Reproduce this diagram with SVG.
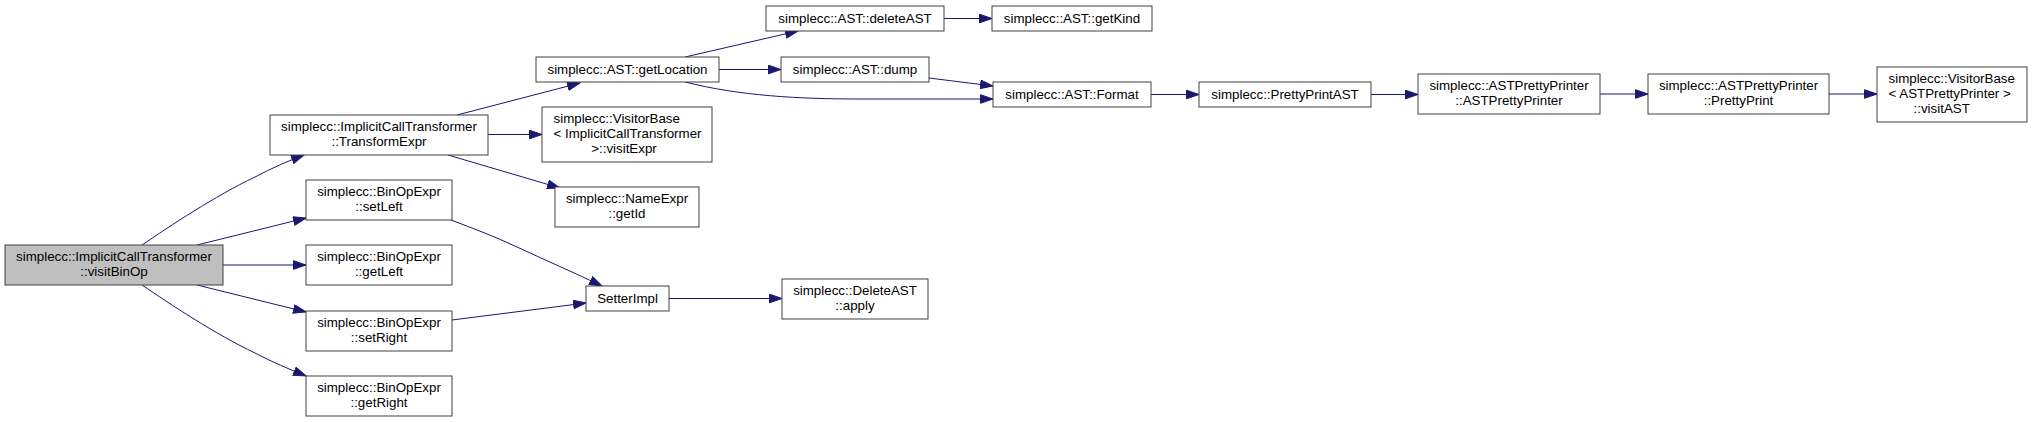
<svg xmlns="http://www.w3.org/2000/svg" width="2032" height="422" viewBox="0 0 2032 422">
<style>
.n rect{fill:#ffffff;stroke:#404040;stroke-width:1}
.n.root rect{fill:#bfbfbf}
.n text{font-family:"Liberation Sans",Arial,Helvetica,sans-serif;font-size:13.33px;fill:#000000}
.c{text-anchor:middle}
.e path{fill:none;stroke:#191970;stroke-width:1;marker-end:url(#ah)}
</style>
<defs>
<marker id="ah" markerUnits="userSpaceOnUse" markerWidth="14" markerHeight="10" refX="13" refY="4.6" orient="auto">
<path d="M0.5,0.3 L13,4.6 L0.5,8.9 z" fill="#191970" stroke="#191970" stroke-width="1"/>
</marker>
</defs>
<rect x="0" y="0" width="2032" height="422" fill="#ffffff"/>
<g id="edges" class="e">
<path d="M142,245 C170,226 215,196 255,177 C272,168 288,161 304,155"/>
<path d="M197,245 L306,218"/>
<path d="M223,265 L306,265"/>
<path d="M197,285 L306,312"/>
<path d="M142,285 C170,304 215,334 255,353 C272,362 289,369 306,376"/>
<path d="M457,115 L580,83"/>
<path d="M488,134.5 L542,134.5"/>
<path d="M448,155 L560,188"/>
<path d="M451,220 C472,228 496,237 517,247 C545,260 575,273 602,286"/>
<path d="M452,320 L586,303"/>
<path d="M669,298.5 L782,298.5"/>
<path d="M685,57 L798,31"/>
<path d="M719,69.5 L781,69.5"/>
<path d="M685,82 C740,96 800,99 860,99 L993,99"/>
<path d="M929,78 L993,86"/>
<path d="M944,18.5 L992,18.5"/>
<path d="M1151,94.5 L1199,94.5"/>
<path d="M1371,94.5 L1418,94.5"/>
<path d="M1600,94 L1648,94"/>
<path d="M1829,94 L1877,94"/>
</g>
<g id="visitBinOp" class="n root"><rect x="5" y="245" width="218" height="40"/><text class="c" x="114" y="261">simplecc::ImplicitCallTransformer</text><text class="c" x="114" y="276">::visitBinOp</text></g>
<g id="TransformExpr" class="n"><rect x="270" y="115" width="218" height="40"/><text class="c" x="379" y="131">simplecc::ImplicitCallTransformer</text><text class="c" x="379" y="146">::TransformExpr</text></g>
<g id="setLeft" class="n"><rect x="306" y="180" width="146" height="40"/><text class="c" x="379" y="196">simplecc::BinOpExpr</text><text class="c" x="379" y="211">::setLeft</text></g>
<g id="getLeft" class="n"><rect x="306" y="245" width="146" height="40"/><text class="c" x="379" y="261">simplecc::BinOpExpr</text><text class="c" x="379" y="276">::getLeft</text></g>
<g id="setRight" class="n"><rect x="306" y="311" width="146" height="40"/><text class="c" x="379" y="327">simplecc::BinOpExpr</text><text class="c" x="379" y="342">::setRight</text></g>
<g id="getRight" class="n"><rect x="306" y="376" width="146" height="40"/><text class="c" x="379" y="392">simplecc::BinOpExpr</text><text class="c" x="379" y="407">::getRight</text></g>
<g id="getLocation" class="n"><rect x="536" y="57" width="183" height="25"/><text class="c" x="627.5" y="74">simplecc::AST::getLocation</text></g>
<g id="visitExpr" class="n"><rect x="542" y="107" width="170" height="55"/><text x="553.5" y="123">simplecc::VisitorBase</text><text x="553.5" y="138">&lt; ImplicitCallTransformer</text><text class="c" x="624" y="153">&gt;::visitExpr</text></g>
<g id="getId" class="n"><rect x="555" y="187" width="144" height="40"/><text class="c" x="627" y="203">simplecc::NameExpr</text><text class="c" x="627" y="218">::getId</text></g>
<g id="SetterImpl" class="n"><rect x="586" y="286" width="83" height="25"/><text class="c" x="627.5" y="303">SetterImpl</text></g>
<g id="apply" class="n"><rect x="782" y="279" width="146" height="40"/><text class="c" x="855" y="295">simplecc::DeleteAST</text><text class="c" x="855" y="310">::apply</text></g>
<g id="deleteAST" class="n"><rect x="766" y="6" width="178" height="25"/><text class="c" x="855" y="23">simplecc::AST::deleteAST</text></g>
<g id="getKind" class="n"><rect x="992" y="6" width="160" height="25"/><text class="c" x="1072" y="23">simplecc::AST::getKind</text></g>
<g id="dump" class="n"><rect x="781" y="57" width="148" height="25"/><text class="c" x="855" y="74">simplecc::AST::dump</text></g>
<g id="Format" class="n"><rect x="993" y="82" width="158" height="25"/><text class="c" x="1072" y="99">simplecc::AST::Format</text></g>
<g id="PrettyPrintAST" class="n"><rect x="1199" y="82" width="172" height="25"/><text class="c" x="1285" y="99">simplecc::PrettyPrintAST</text></g>
<g id="ASTPrettyPrinter" class="n"><rect x="1418" y="74" width="182" height="40"/><text class="c" x="1509" y="90">simplecc::ASTPrettyPrinter</text><text class="c" x="1509" y="105">::ASTPrettyPrinter</text></g>
<g id="PrettyPrint" class="n"><rect x="1648" y="74" width="181" height="40"/><text class="c" x="1738.5" y="90">simplecc::ASTPrettyPrinter</text><text class="c" x="1738.5" y="105">::PrettyPrint</text></g>
<g id="visitAST" class="n"><rect x="1877" y="67" width="150" height="55"/><text x="1888.5" y="83">simplecc::VisitorBase</text><text x="1888.5" y="98">&lt; ASTPrettyPrinter &gt;</text><text class="c" x="1941.7" y="113">::visitAST</text></g>
</svg>
